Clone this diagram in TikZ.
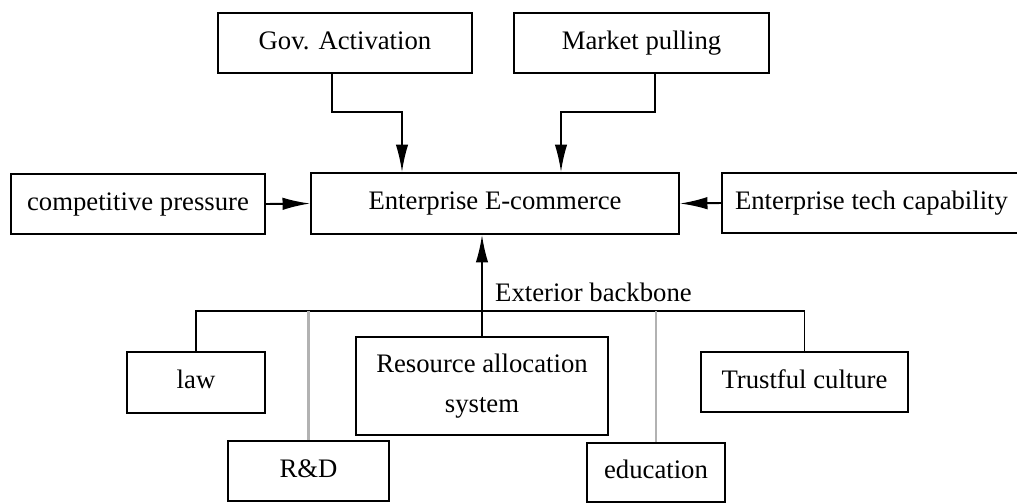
\documentclass[tikz,border=0pt]{standalone}
\usepackage{fontspec}
\setmainfont{Liberation Serif}
\usetikzlibrary{arrows.meta}

\begin{document}
\begin{tikzpicture}[
  every node/.style = {font=\fontsize{15.2}{18}\selectfont},
  frame/.style = {draw, line width=1.1pt, inner sep=0pt},
  box/.style   = {frame, text height=1.9ex, text depth=0.4ex},
  tallbox/.style = {frame, align=center, font=\fontsize{15.2}{22.8}\selectfont},
  link/.style  = {line width=1.1pt},
  feed/.style  = {line width=1.1pt, -{Latex[length=5.5mm, width=2.5mm]}},
  faint/.style = {line width=1.2pt, gray!60},
]

% ── Frame ─────────────────────────────────────────────────────────────────
\useasboundingbox (0,0) rectangle (20.34,-10.06);

% ── Driving factors (top row and sides) ───────────────────────────────────
\node[box, minimum width=5.08cm, minimum height=1.20cm] (gov)    at (6.90,-0.86)  {Gov. Activation};
\node[box, minimum width=5.10cm, minimum height=1.20cm] (market) at (12.83,-0.86) {Market pulling};
\node[box, minimum width=5.08cm, minimum height=1.20cm] (comp)   at (2.76,-4.08)  {competitive pressure};
\node[box, minimum width=7.36cm, minimum height=1.22cm] (ent)    at (9.90,-4.07)  {Enterprise E-commerce};
\node[box, minimum width=5.98cm, minimum height=1.20cm] (tech)   at (17.43,-4.06) {Enterprise tech capability};

% ── Exterior backbone elements ────────────────────────────────────────────
\node[box, minimum width=2.76cm, minimum height=1.22cm] (law)   at (3.92,-7.65)  {law};
\node[box, minimum width=3.22cm, minimum height=1.20cm] (rnd)   at (6.17,-9.42)  {R\&D};
\node[tallbox, minimum width=5.04cm, minimum height=1.96cm] (res) at (9.64,-7.72) {Resource allocation\\system};
\node[box, minimum width=2.76cm, minimum height=1.18cm] (edu)   at (13.12,-9.45) {education};
\node[box, minimum width=4.14cm, minimum height=1.20cm] (trust) at (16.09,-7.64) {Trustful culture};

% ── Bend points ───────────────────────────────────────────────────────────
\coordinate (gb)  at (8.04,-2.24);
\coordinate (mb)  at (11.22,-2.24);
\coordinate (bus) at (0,-6.22);

% ── Arrows into the enterprise ────────────────────────────────────────────
\draw[feed] ([xshift=-0.26cm]gov.south) |- (gb) -- (gb |- ent.north);
\draw[feed] ([xshift=0.27cm]market.south) |- (mb) -- (mb |- ent.north);
\draw[feed] (comp.east) -- (ent.west);
\draw[feed] (tech.west) -- (ent.east);
\draw[feed] (res.north) -- (res.north |- ent.south);

% ── Backbone bus ──────────────────────────────────────────────────────────
\draw[link] (law.north) |- (trust.north |- bus) -- (trust.north);
\draw[faint] (rnd.north) -- (rnd.north |- bus);
\draw[faint] (edu.north) -- (edu.north |- bus);

\node[anchor=west] (extlbl) at (9.78,-5.84) {Exterior backbone};

\end{tikzpicture}
\end{document}
